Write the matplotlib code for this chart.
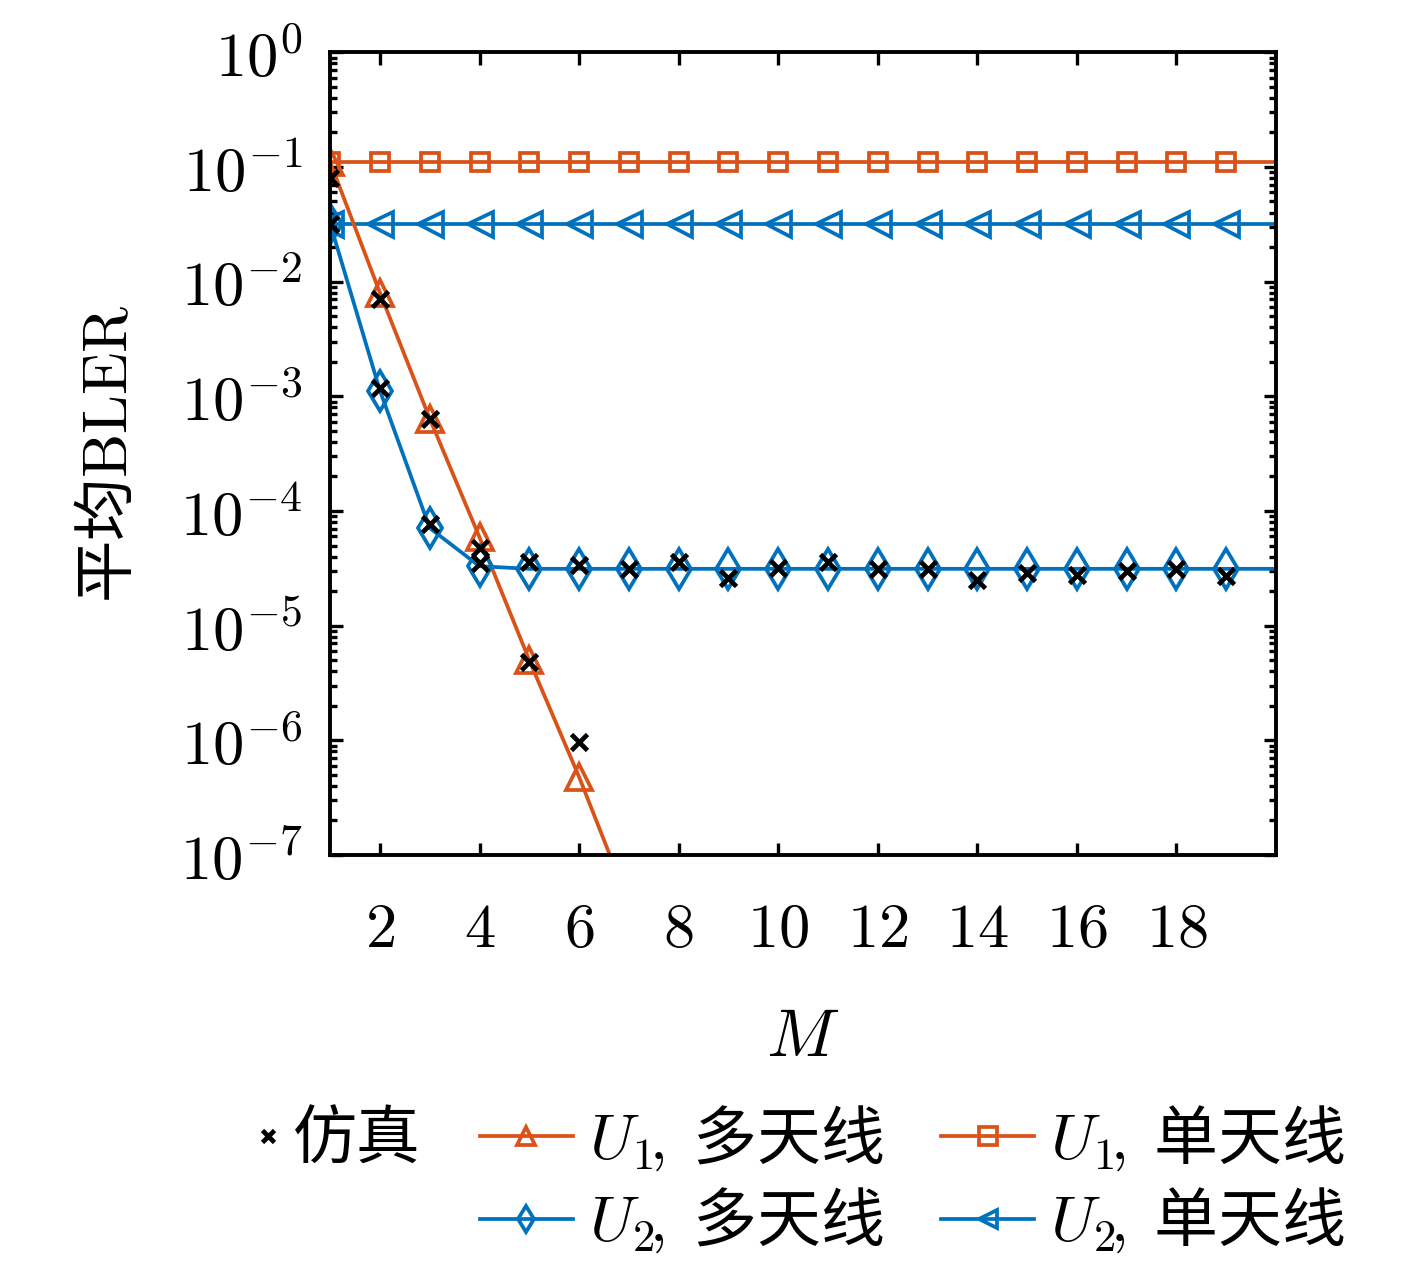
import numpy as np
import matplotlib
matplotlib.use('Agg')
import matplotlib.pyplot as plt
from matplotlib.ticker import FixedLocator, LogLocator, FuncFormatter, NullFormatter

plt.rcParams['font.family'] = ['Noto Sans CJK SC', 'DejaVu Sans']
plt.rcParams['mathtext.fontset'] = 'cm'
plt.rcParams['axes.unicode_minus'] = True

# data
M_all = [1, 2, 3, 4, 5, 6, 7, 8, 9, 10, 11, 12, 13, 14, 15, 16, 17, 18, 19, 20]
u1_single = [0.11, 0.11, 0.11, 0.11, 0.11, 0.11, 0.11, 0.11, 0.11, 0.11,
             0.11, 0.11, 0.11, 0.11, 0.11, 0.11, 0.11, 0.11, 0.11, 0.11]
u2_single = [0.032, 0.032, 0.032, 0.032, 0.032, 0.032, 0.032, 0.032, 0.032, 0.032,
             0.032, 0.032, 0.032, 0.032, 0.032, 0.032, 0.032, 0.032, 0.032, 0.032]
u2_multi = [0.032, 1.12e-3, 7.1e-5, 3.3e-5, 3.13e-5, 3.13e-5, 3.13e-5, 3.13e-5, 3.13e-5, 3.13e-5,
            3.13e-5, 3.13e-5, 3.13e-5, 3.13e-5, 3.13e-5, 3.13e-5, 3.13e-5, 3.13e-5, 3.13e-5, 3.13e-5]
M_u1 = [1, 2, 3, 4, 5, 6, 7]
u1_multi = [0.11, 8.0e-3, 6.4e-4, 5.9e-5, 5.0e-6, 4.8e-7, 3.8e-8]

sim_M_u1 = [1, 2, 3, 4, 5, 6]
sim_u1 = [0.08, 7.1e-3, 6.4e-4, 4.8e-5, 4.8e-6, 9.6e-7]
sim_M_u2 = [1, 2, 3, 4, 5, 6, 7, 8, 9, 10, 11, 12, 13, 14, 15, 16, 17, 18, 19]
sim_u2 = [0.032, 1.17e-3, 7.7e-5, 3.5e-5, 3.6e-5, 3.35e-5, 3.1e-5, 3.6e-5, 2.6e-5, 3.2e-5,
          3.6e-5, 3.1e-5, 3.15e-5, 2.5e-5, 2.9e-5, 2.75e-5, 3.0e-5, 3.1e-5, 2.7e-5]

orange = '#D95319'
blue = '#0072BD'
lw = 1.35
mw = 1.35
fs = 22.5

fig = plt.figure(figsize=(7.085, 6.375), dpi=200)
ax = fig.add_axes([0.233, 0.3294, 0.9005 - 0.233, 0.959 - 0.3294])

marks = list(range(19))
l_u1s, = ax.plot(M_all, u1_single, '-', color=orange, lw=lw, marker='s', ms=6.5,
                 mfc='none', mew=mw, markevery=marks, label='$U_1\\!,$ 单天线')
l_u2s, = ax.plot(M_all, u2_single, '-', color=blue, lw=lw, marker='<', ms=9,
                 mfc='none', mew=mw, markevery=marks, label='$U_2\\!,$ 单天线')
l_u1m, = ax.plot(M_u1, u1_multi, '-', color=orange, lw=lw, marker='^', ms=9.5,
                 mfc='none', mew=mw, label='$U_1\\!,$ 多天线')
l_u2m, = ax.plot(M_all, u2_multi, '-', color=blue, lw=lw, marker='d', ms=10,
                 mfc='none', mew=mw, markevery=marks, label='$U_2\\!,$ 多天线')
ax.plot(sim_M_u1, sim_u1, 'x', color='k', ms=5.5, mew=1.7, zorder=5)
l_sim, = ax.plot(sim_M_u2, sim_u2, 'x', color='k', ms=5.5, mew=1.7, zorder=5, label='仿真')

ax.set_yscale('log')
ax.set_xlim(1, 20)
ax.set_ylim(1e-7, 1)

ax.xaxis.set_major_locator(FixedLocator([2, 4, 6, 8, 10, 12, 14, 16, 18]))
ax.xaxis.set_major_formatter(FuncFormatter(lambda v, p: '$%d$' % v))
ax.yaxis.set_major_locator(FixedLocator([1e-7, 1e-6, 1e-5, 1e-4, 1e-3, 1e-2, 1e-1, 1]))
ax.yaxis.set_major_formatter(FuncFormatter(lambda v, p: '$10^{%d}$' % int(round(np.log10(v)))))
ax.yaxis.set_minor_locator(LogLocator(base=10, subs=np.arange(2, 10), numticks=30))
ax.yaxis.set_minor_formatter(NullFormatter())

for s in ax.spines.values():
    s.set_linewidth(1.4)
ax.tick_params(which='both', direction='in', top=True, right=True, width=1.2, labelsize=fs)
ax.tick_params(which='major', length=4.5)
ax.tick_params(which='minor', length=2.5)
ax.tick_params(axis='x', pad=15)
ax.tick_params(axis='y', pad=10)

ax.set_xlabel('$M$', fontsize=fs + 2, labelpad=15)
ax.set_ylabel('平均$\\mathrm{BLER}$', fontsize=fs, labelpad=14)

# legends below the axes
leg1 = fig.legend(handles=[l_sim], loc='center left', bbox_to_anchor=(255 / 1417, 1 - 1140 / 1275),
                  frameon=False, fontsize=fs + 0.5, handlelength=0.4, handletextpad=0.2,
                  borderpad=0, borderaxespad=0)
for h in leg1.legend_handles:
    h.set_markersize(4.5)
leg2 = fig.legend(handles=[l_u1m, l_u2m, l_u1s, l_u2s], ncol=2, loc='center left',
                  bbox_to_anchor=(480 / 1417, 1 - 1180 / 1275), frameon=False, fontsize=fs + 0.5,
                  handlelength=1.45, handletextpad=0.25, columnspacing=0.9, labelspacing=0.2,
                  borderpad=0, borderaxespad=0)
for h in leg2.legend_handles:
    h.set_markersize(6.5)

fig.savefig('out.png', dpi=200)
